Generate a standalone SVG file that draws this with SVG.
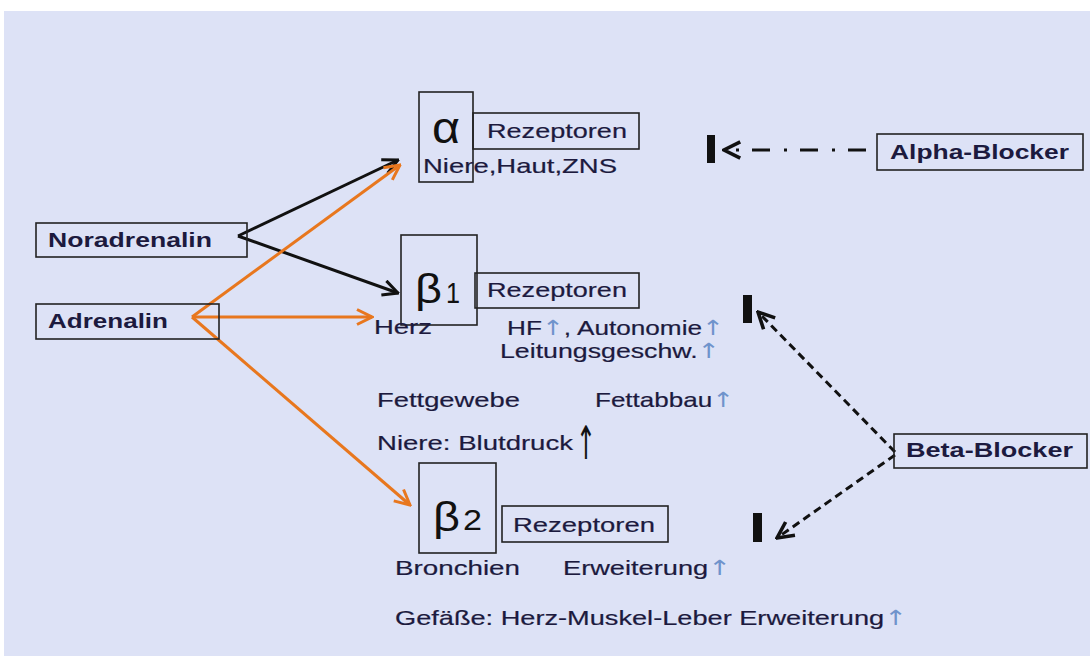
<svg xmlns="http://www.w3.org/2000/svg" width="1090" height="656" viewBox="0 0 1090 656">
<defs>
<style>
.t{font-family:"Liberation Sans",Arial,sans-serif;font-size:21px;fill:#1c1a3e;stroke:#1c1a3e;stroke-width:0.2}
.b{font-family:"Liberation Sans",Arial,sans-serif;font-size:20px;font-weight:bold;fill:#1c1a3e}
.g{font-family:"Liberation Sans",Arial,sans-serif;fill:#111}
.box{fill:none;stroke:#222;stroke-width:1.6}
.up{fill:#6f93cc;stroke:none;font-family:"DejaVu Sans",sans-serif;font-size:21px}
.blk{fill:none;stroke:#111;stroke-width:3}
.org{fill:none;stroke:#e8771e;stroke-width:3}
.dsh{fill:none;stroke:#111;stroke-width:3;stroke-dasharray:8 5}
.bar{fill:#111}
</style>
<marker id="ab" viewBox="0 0 12 12" refX="11" refY="6" markerWidth="6" markerHeight="6" orient="auto" markerUnits="strokeWidth"><path d="M1,1 L11,6 L1,11" fill="none" stroke="#111" stroke-width="2"/></marker>
<marker id="ao" viewBox="0 0 12 12" refX="11" refY="6" markerWidth="6" markerHeight="6" orient="auto" markerUnits="strokeWidth"><path d="M1,1 L11,6 L1,11" fill="none" stroke="#e8771e" stroke-width="2"/></marker>
<marker id="ad" viewBox="0 0 12 12" refX="11" refY="6" markerWidth="6.5" markerHeight="6.5" orient="auto" markerUnits="strokeWidth"><path d="M1,1 L11,6 L1,11" fill="none" stroke="#111" stroke-width="2.2"/></marker>
</defs>
<rect x="0" y="0" width="1090" height="656" fill="#ffffff"/>
<rect x="4" y="11" width="1086" height="645" fill="#dde2f6"/>

<g id="connectors">
<path class="blk" d="M238,236 L398,160" marker-end="url(#ab)"/>
<path class="blk" d="M238,236 L398,293" marker-end="url(#ab)"/>
<path class="org" d="M192,317 L400,165" marker-end="url(#ao)"/>
<path class="org" d="M192,317 L372,317" marker-end="url(#ao)"/>
<path class="org" d="M192,317 L410,505" marker-end="url(#ao)"/>
<path fill="none" stroke="#111" stroke-width="3" stroke-dasharray="18 13 3 14" d="M866,150 L724,150" marker-end="url(#ad)"/>
<path class="dsh" d="M895,452 L758,312" marker-end="url(#ad)"/>
<path class="dsh" d="M895,455 L777,538" marker-end="url(#ad)"/>
<rect class="bar" x="707" y="135" width="8" height="28"/>
<rect class="bar" x="743" y="295" width="9" height="28"/>
<rect class="bar" x="753" y="513" width="9" height="29"/>
</g>

<g id="alpha">
<rect class="box" x="419" y="92" width="54" height="90"/>
<text class="g" x="432" y="143" font-size="44" textLength="28" lengthAdjust="spacingAndGlyphs">α</text>
<rect class="box" x="473" y="113" width="166" height="36"/>
<text class="t" x="487" y="138" textLength="140" lengthAdjust="spacingAndGlyphs">Rezeptoren</text>
<text class="t" x="423" y="173" textLength="194" lengthAdjust="spacingAndGlyphs">Niere,Haut,ZNS</text>
</g>

<g id="alpha-blocker">
<rect class="box" x="877" y="134" width="206" height="36"/>
<text class="b" x="890" y="159" textLength="179" lengthAdjust="spacingAndGlyphs">Alpha-Blocker</text>
</g>

<g id="noradrenalin">
<rect class="box" x="36" y="223" width="211" height="34"/>
<text class="b" x="48" y="247" textLength="164" lengthAdjust="spacingAndGlyphs">Noradrenalin</text>
</g>

<g id="adrenalin">
<rect class="box" x="36" y="304" width="183" height="35"/>
<text class="b" x="48" y="328" textLength="120" lengthAdjust="spacingAndGlyphs">Adrenalin</text>
</g>

<g id="beta1">
<rect class="box" x="401" y="235" width="76" height="90"/>
<text class="g" x="415" y="303" font-size="40" textLength="27" lengthAdjust="spacingAndGlyphs">β</text>
<text class="g" x="446" y="303" font-size="29" textLength="14" lengthAdjust="spacingAndGlyphs">1</text>
<rect class="box" x="475" y="273" width="164" height="35"/>
<text class="t" x="487" y="297" textLength="140" lengthAdjust="spacingAndGlyphs">Rezeptoren</text>
<text class="t" x="374" y="334" textLength="58" lengthAdjust="spacingAndGlyphs">Herz</text>
<text class="t" x="507" y="335" textLength="217" lengthAdjust="spacingAndGlyphs">HF<tspan class="up">↑</tspan>,  Autonomie<tspan class="up">↑</tspan></text>
<text class="t" x="500" y="358" textLength="220" lengthAdjust="spacingAndGlyphs">Leitungsgeschw.<tspan class="up">↑</tspan></text>
<text class="t" x="377" y="407" textLength="143" lengthAdjust="spacingAndGlyphs">Fettgewebe</text>
<text class="t" x="595" y="407" textLength="139" lengthAdjust="spacingAndGlyphs">Fettabbau<tspan class="up">↑</tspan></text>
<text class="t" x="377" y="450" textLength="196" lengthAdjust="spacingAndGlyphs">Niere: Blutdruck</text>
<text x="576" y="459" font-family="DejaVu Sans, sans-serif" font-size="46" fill="#111" textLength="20" lengthAdjust="spacingAndGlyphs">↑</text>
</g>

<g id="beta2">
<rect class="box" x="419" y="463" width="77" height="90"/>
<text class="g" x="433" y="531" font-size="40" textLength="27" lengthAdjust="spacingAndGlyphs">β</text>
<text class="g" x="463" y="530" font-size="29" textLength="19" lengthAdjust="spacingAndGlyphs">2</text>
<rect class="box" x="502" y="506" width="166" height="36"/>
<text class="t" x="513" y="532" textLength="142" lengthAdjust="spacingAndGlyphs">Rezeptoren</text>
<text class="t" x="395" y="575" textLength="125" lengthAdjust="spacingAndGlyphs">Bronchien</text>
<text class="t" x="563" y="575" textLength="168" lengthAdjust="spacingAndGlyphs">Erweiterung<tspan class="up">↑</tspan></text>
<text class="t" x="395" y="625" textLength="512" lengthAdjust="spacingAndGlyphs">Gefäße: Herz-Muskel-Leber Erweiterung<tspan class="up">↑</tspan></text>
</g>

<g id="beta-blocker">
<rect class="box" x="894" y="434" width="193" height="34"/>
<text class="b" x="906" y="457" textLength="167" lengthAdjust="spacingAndGlyphs">Beta-Blocker</text>
</g>
</svg>
